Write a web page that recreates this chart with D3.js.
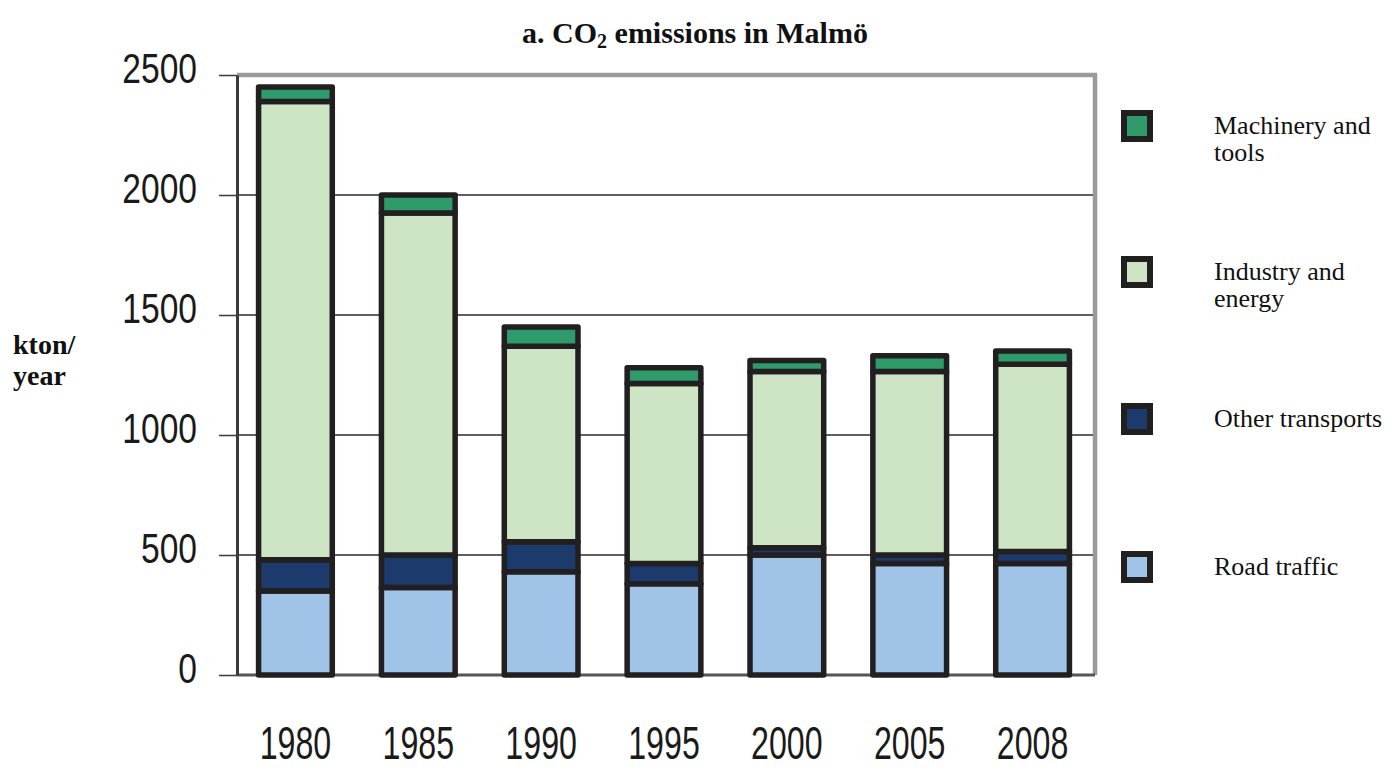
<!DOCTYPE html>
<html>
<head>
<meta charset="utf-8">
<script src="https://cdn.jsdelivr.net/npm/d3@7"></script>
<style>
  body { margin: 0; background: #fff; }
  svg { display: block; }
</style>
</head>
<body>
<div id="chart"></div>
<script>
let width = 1397
let height = 770

// values (kton/year)
let years = ['1980', '1985', '1990', '1995', '2000', '2005', '2008']
let roadTraffic = [350, 365, 430, 380, 500, 465, 465]
let otherTransports = [130, 135, 125, 85, 30, 35, 50]
let industryEnergy = [1910, 1425, 815, 750, 735, 765, 780]
let machineryTools = [60, 75, 80, 65, 45, 65, 55]
let yTicks = [0, 500, 1000, 1500, 2000, 2500]

let seriesKeys = ['road', 'other', 'industry', 'machinery']
let seriesNames = {
  road: ['Road traffic'],
  other: ['Other transports'],
  industry: ['Industry and', 'energy'],
  machinery: ['Machinery and', 'tools']
}
let colors = {
  road: '#9fc4e7',
  other: '#1c3a6c',
  industry: '#cde5c4',
  machinery: '#2f9b6b'
}

let table = years.map((y, i) => {
  return {
    year: y,
    road: roadTraffic[i],
    other: otherTransports[i],
    industry: industryEnergy[i],
    machinery: machineryTools[i]
  }
})

let plot = { left: 237, right: 1095, top: 75, bottom: 675 }

let xScale = d3.scaleBand()
  .domain(years)
  .range([234, 1094])
  .padding(0)

let yScale = d3.scaleLinear()
  .domain([0, 2500])
  .range([plot.bottom, plot.top])

let svg = d3.select('#chart').append('svg')
  .attr('width', width)
  .attr('height', height)

// gridlines
svg.append('g')
  .selectAll('line')
  .data([500, 1000, 1500, 2000])
  .enter().append('line')
  .attr('x1', plot.left)
  .attr('x2', plot.right)
  .attr('y1', d => yScale(d))
  .attr('y2', d => yScale(d))
  .attr('stroke', '#2a2a2a')
  .attr('stroke-width', 1.5)

// grey frame top and right
svg.append('path')
  .attr('d', `M${plot.left},${plot.top}H${plot.right}V${plot.bottom}`)
  .attr('fill', 'none')
  .attr('stroke', '#9a9a9a')
  .attr('stroke-width', 4.5)

// bottom line
svg.append('line')
  .attr('x1', plot.left)
  .attr('x2', plot.right)
  .attr('y1', plot.bottom)
  .attr('y2', plot.bottom)
  .attr('stroke', '#555')
  .attr('stroke-width', 3)

// y axis
let yAxis = svg.append('g')
  .attr('transform', 'translate(' + plot.left + ',0)')
  .call(
    d3.axisLeft(yScale)
      .tickValues(yTicks)
      .tickSize(18)
      .tickSizeOuter(0)
      .tickFormat(d => d.toString())
  )
yAxis.select('.domain').attr('stroke', '#3a3a3a').attr('stroke-width', 3)
yAxis.selectAll('.tick line').attr('stroke', '#3a3a3a').attr('stroke-width', 1.5)
yAxis.selectAll('.tick text')
  .attr('font-family', '"Liberation Sans", Arial, sans-serif')
  .attr('font-size', 42)
  .attr('fill', '#1a1a1a')
  .attr('x', -40 / 0.8)
  .attr('dy', '0.18em')
  .attr('transform', 'scale(0.8,1)')

// x axis labels
let xAxis = svg.append('g')
  .attr('transform', 'translate(0,' + plot.bottom + ')')
  .call(d3.axisBottom(xScale).tickSize(0))
xAxis.select('.domain').remove()
xAxis.selectAll('.tick text')
  .attr('font-family', '"Liberation Sans", Arial, sans-serif')
  .attr('font-size', 46)
  .attr('fill', '#1a1a1a')
  .attr('y', 84)
  .attr('dy', 0)
  .attr('transform', 'scale(0.7,1)')

// stacked bars
let stacked = d3.stack().keys(seriesKeys)(table)
let barW = xScale.bandwidth() * 0.6

svg.append('g')
  .selectAll('g')
  .data(stacked)
  .enter().append('g')
  .attr('fill', d => colors[d.key])
  .selectAll('rect')
  .data(d => d)
  .enter().append('rect')
  .attr('x', d => xScale(d.data.year) + xScale.bandwidth() / 2 - barW / 2)
  .attr('y', d => yScale(d[1]))
  .attr('width', barW)
  .attr('height', d => yScale(d[0]) - yScale(d[1]))
  .attr('stroke', '#221f20')
  .attr('stroke-width', 5.5)
  .attr('stroke-linejoin', 'round')

// title
let title = svg.append('text')
  .attr('x', 695)
  .attr('y', 43)
  .attr('text-anchor', 'middle')
  .attr('font-family', '"Liberation Serif", "Times New Roman", serif')
  .attr('font-weight', 'bold')
  .attr('font-size', 30)
  .attr('fill', '#111')
title.append('tspan').text('a. CO')
title.append('tspan').attr('font-size', 20).attr('dy', 5).text('2')
title.append('tspan').attr('dy', -5).text(' emissions in Malmö')

// y label
let yLabel = svg.append('text')
  .attr('font-family', '"Liberation Serif", "Times New Roman", serif')
  .attr('font-weight', 'bold')
  .attr('font-size', 28)
  .attr('fill', '#111')
yLabel.append('tspan').attr('x', 13).attr('y', 354).text('kton/')
yLabel.append('tspan').attr('x', 13).attr('y', 385).text('year')

// legend
let legendY = { machinery: 126, industry: 272, other: 419, road: 567 }
let legend = svg.append('g')
  .selectAll('g')
  .data(seriesKeys)
  .enter().append('g')
  .attr('transform', d => 'translate(0,' + legendY[d] + ')')

legend.append('rect')
  .attr('x', 1124)
  .attr('y', -13)
  .attr('width', 26)
  .attr('height', 26)
  .attr('fill', d => colors[d])
  .attr('stroke', '#221f20')
  .attr('stroke-width', 6)

legend.append('text')
  .attr('font-family', '"Liberation Serif", "Times New Roman", serif')
  .attr('font-size', 26)
  .attr('fill', '#111')
  .selectAll('tspan')
  .data(d => seriesNames[d])
  .enter().append('tspan')
  .attr('x', 1214)
  .attr('y', (d, i) => 8 + i * 27)
  .text(d => d)
</script>
</body>
</html>
